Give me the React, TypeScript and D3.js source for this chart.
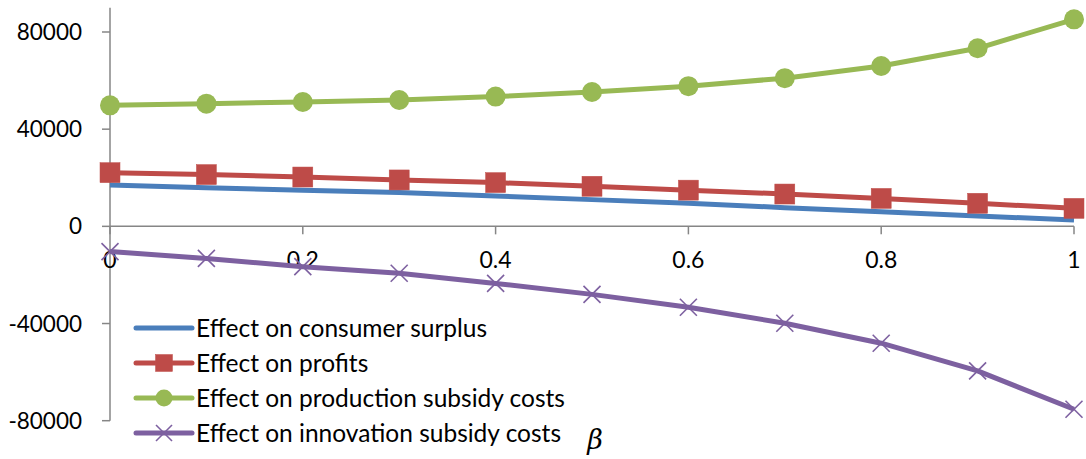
import React from "react";
import * as d3 from "d3";

const betas = [0, 0.1, 0.2, 0.3, 0.4, 0.5, 0.6, 0.7, 0.8, 0.9, 1.0];
const consumerSurplus = [17000, 15900, 14900, 13900, 12500, 11000, 9500, 7700, 6000, 4300, 2600];
const profits = [22100, 21300, 20300, 19100, 18000, 16500, 14900, 13300, 11500, 9500, 7400];
const productionSubsidy = [49800, 50500, 51200, 52000, 53400, 55300, 57700, 61000, 66000, 73300, 85200];
const innovationSubsidy = [-10400, -13200, -16600, -19300, -23500, -28000, -33300, -39900, -48100, -59500, -75300];
const yTicks = [-80000, -40000, 0, 40000, 80000];
const xTicks = [0, 0.2, 0.4, 0.6, 0.8, 1];
const seriesNames = [
  "Effect on consumer surplus",
  "Effect on profits",
  "Effect on production subsidy costs",
  "Effect on innovation subsidy costs",
];

const W = 1086;
const H = 459;
const FONT = "Lato, 'Open Sans', sans-serif";

type Marker = "none" | "square" | "circle" | "x";

const series: { name: string; values: number[]; color: string; marker: Marker }[] = [
  { name: seriesNames[0], values: consumerSurplus, color: "#4a7ebb", marker: "none" },
  { name: seriesNames[1], values: profits, color: "#be4b48", marker: "square" },
  { name: seriesNames[2], values: productionSubsidy, color: "#98b954", marker: "circle" },
  { name: seriesNames[3], values: innovationSubsidy, color: "#7d60a0", marker: "x" },
];

function MarkerShape({ type, x, y, color, size }: { type: Marker; x: number; y: number; color: string; size: number }) {
  if (type === "square") {
    return <rect x={x - size / 2} y={y - size / 2} width={size} height={size} fill={color} stroke="#c0504d" strokeWidth={0.5} />;
  }
  if (type === "circle") {
    return <circle cx={x} cy={y} r={size / 2} fill={color} />;
  }
  if (type === "x") {
    const h = size / 2;
    return (
      <g stroke={color} strokeWidth={1.6}>
        <line x1={x - h} y1={y - h} x2={x + h} y2={y + h} />
        <line x1={x - h} y1={y + h} x2={x + h} y2={y - h} />
      </g>
    );
  }
  return null;
}

export default function App() {
  const x = d3.scaleLinear().domain([0, 1]).range([110, 1074]);
  const y = d3.scaleLinear().domain([-80000, 90000]).range([420.7, 7.7]);
  const line = d3
    .line<number>()
    .x((_, i) => x(betas[i]))
    .y((d) => y(d));

  const y0 = y(0);
  const legendX1 = 136;
  const legendX2 = 192;
  const legendRows = [328, 363, 398, 433];

  return (
    <div style={{ position: "absolute", left: 0, top: 0 }}>
      <svg width={W} height={H} viewBox={`0 0 ${W} ${H}`} style={{ display: "block", background: "#fff" }}>
        <rect x={0} y={0} width={W} height={H} fill="#fff" />
        {/* Y axis */}
        <line x1={x(0)} x2={x(0)} y1={y(90000)} y2={y(-80000)} stroke="#868686" strokeWidth={1.5} />
        {yTicks.map((t) => (
          <g key={t}>
            <line x1={x(0) - 8} x2={x(0)} y1={y(t)} y2={y(t)} stroke="#868686" strokeWidth={1.5} />
            <text x={82} y={y(t)} dy="0.36em" textAnchor="end" fontFamily={FONT} fontSize={22.5} fill="#000">
              {t}
            </text>
          </g>
        ))}
        {/* X axis */}
        <line x1={x(0)} x2={x(1)} y1={y0} y2={y0} stroke="#868686" strokeWidth={1.5} />
        {xTicks.map((t) => (
          <g key={t}>
            <line x1={x(t)} x2={x(t)} y1={y0} y2={y0 + 8} stroke="#868686" strokeWidth={1.5} />
            <text x={x(t)} y={268} textAnchor="middle" fontFamily={FONT} fontSize={23} fill="#000">
              {String(t)}
            </text>
          </g>
        ))}
        {/* Series */}
        {series.map((s) => (
          <g key={s.name}>
            <path d={line(s.values) || ""} fill="none" stroke={s.color} strokeWidth={5} strokeLinejoin="round" />
            {s.values.map((v, i) => (
              <MarkerShape key={i} type={s.marker} x={x(betas[i])} y={y(v)} color={s.color} size={s.marker === "x" ? 17 : 20} />
            ))}
          </g>
        ))}
        {/* Legend */}
        {series.map((s, i) => (
          <g key={s.name}>
            <line x1={legendX1} x2={legendX2} y1={legendRows[i]} y2={legendRows[i]} stroke={s.color} strokeWidth={5} strokeLinecap="round" />
            <MarkerShape type={s.marker} x={(legendX1 + legendX2) / 2} y={legendRows[i]} color={s.color} size={s.marker === "x" ? 16 : 17} />
            <text x={196} y={legendRows[i]} dy="0.36em" fontFamily={FONT} fontSize={24.5} fill="#000">
              {s.name}
            </text>
          </g>
        ))}
        {/* Axis title */}
        <text x={595} y={449} textAnchor="middle" fontFamily="'DejaVu Serif', 'Liberation Serif', serif" fontStyle="italic" fontSize={27} fill="#000">
          β
        </text>
      </svg>
    </div>
  );
}
